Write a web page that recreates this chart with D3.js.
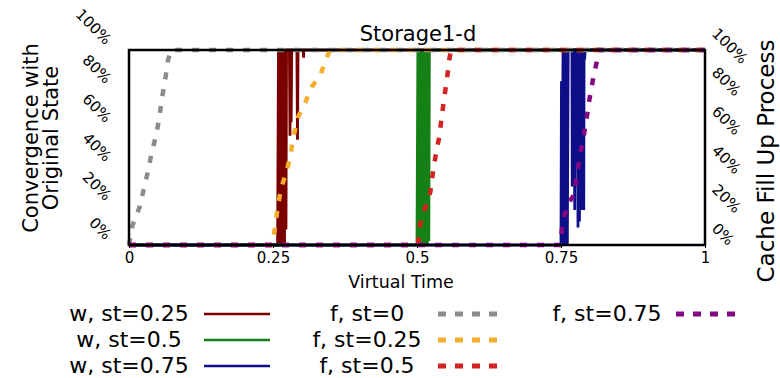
<!DOCTYPE html>
<html>
<head>
<meta charset="utf-8">
<script src="https://cdn.jsdelivr.net/npm/d3@7"></script>
<style>
  body { margin: 0; background: #fff; }
  text { font-family: "DejaVu Sans", sans-serif; fill: #000; }
</style>
</head>
<body>
<div class="chart"></div>
<script>

// tick values
var xTicks = [0, 0.25, 0.5, 0.75, 1];
var yTicks = [0, 20, 40, 60, 80, 100];

// w series (convergence), [virtual time, percent]
var wSt025 = [[0,0],[0.258,0],[0.2595,100],[0.261,0],[0.2625,100],[0.264,0],[0.2655,100],[0.267,0],
              [0.2685,100],[0.270,0],[0.2715,100],[0.2725,8],[0.2735,100],[0.2785,100],[0.2795,56],
              [0.2805,100],[0.2815,63],[0.2825,100],[0.2915,100],[0.2925,54],[0.2935,100],[0.3025,100],
              [0.303,96],[0.3035,100],[1,100]];
var wSt05 = [[0,0],[0.5,0],[0.5015,100],[0.503,0],[0.5045,100],[0.506,0],[0.5075,100],[0.509,0],
             [0.5105,100],[0.512,0],[0.5135,100],[0.515,0],[0.5165,100],[0.518,0],[0.5195,100],
             [0.5205,2],[0.5215,100],[1,100]];
var wSt075 = [[0,0],[0.75,0],[0.7508,84],[0.752,0],[0.7535,100],[0.755,0],[0.7565,100],[0.758,0],
              [0.7595,100],[0.761,0],[0.7625,100],[0.769,100],[0.7695,30],[0.7705,100],[0.7715,30],
              [0.7725,100],[0.7738,18],[0.775,100],[0.7775,100],[0.778,40],[0.779,100],[0.7795,9],
              [0.781,100],[0.782,12],[0.7835,100],[0.785,18],[0.786,100],[0.787,60],[0.788,100],
              [0.7895,18],[0.79,100],[0.791,95],[0.792,100],[1,100]];

// f series (cache fill up)
var fSt0 = [[0,0],[0.006,10],[0.019,20],[0.025,28],[0.034,39],[0.039,47],[0.047,56],[0.053,66],
            [0.057,75],[0.063,85],[0.068,95],[0.073,100],[1,100]];
var fSt025 = [[0,0],[0.247,0],[0.2505,3],[0.259,21],[0.265,30],[0.274,38],[0.281,47],[0.285,55],
              [0.294,66],[0.306,73],[0.317,81],[0.332,87],[0.343,96],[0.349,100],[1,100]];
var fSt05 = [[0,0],[0.5,0],[0.502,1],[0.505,10],[0.514,19],[0.523,27],[0.528,38],[0.533,47],
             [0.539,56],[0.543,66],[0.547,75],[0.552,85],[0.556,95],[0.559,100],[1,100]];
var fSt075 = [[0,0],[0.748,0],[0.753,11],[0.76,20],[0.773,26],[0.778,37],[0.783,46],[0.789,55],
              [0.795,66],[0.799,74],[0.805,84],[0.812,94],[0.816,100],[1,100]];

var wSeries = [
  {name: 'w, st=0.25', color: '#7a0000', data: wSt025},
  {name: 'w, st=0.5', color: '#158015', data: wSt05},
  {name: 'w, st=0.75', color: '#0e0e88', data: wSt075}
];
var fSeries = [
  {name: 'f, st=0', color: '#8c8c8c', data: fSt0},
  {name: 'f, st=0.25', color: '#f4ae2c', data: fSt025},
  {name: 'f, st=0.5', color: '#d42222', data: fSt05},
  {name: 'f, st=0.75', color: '#840884', data: fSt075}
];

var width = 780;
var height = 378;
var plotLeft = 129, plotRight = 705, plotTop = 50, plotBottom = 245;

var svg = d3.select('.chart').append('svg')
            .attr('width', width)
            .attr('height', height);

var x = d3.scaleLinear().domain([0, 1]).range([plotLeft, plotRight]);
var y = d3.scaleLinear().domain([0, 100]).range([plotBottom, plotTop]);

var line = d3.line()
             .x(function(d){ return x(d[0]); })
             .y(function(d){ return y(d[1]); });

var plot = svg.append('g');

wSeries.forEach(function(s) {
  plot.append('path')
      .attr('d', line(s.data))
      .attr('fill', 'none')
      .attr('stroke', s.color)
      .attr('stroke-width', 2.8)
      .attr('stroke-linejoin', 'miter');
});

fSeries.forEach(function(s) {
  plot.append('path')
      .attr('d', line(s.data))
      .attr('fill', 'none')
      .attr('stroke', s.color)
      .attr('stroke-width', 4.5)
      .style('stroke-dasharray', '7, 10');
});

// frame on top of the lines
svg.append('rect')
   .attr('x', plotLeft).attr('y', plotTop)
   .attr('width', plotRight - plotLeft).attr('height', plotBottom - plotTop)
   .attr('fill', 'none')
   .attr('stroke', '#000')
   .attr('stroke-width', 2.5);

var xAxis = d3.axisBottom(x).tickValues(xTicks).tickSize(2).tickPadding(4)
              .tickFormat(function(d){ return String(d); });
var gx = svg.append('g')
            .attr('transform', 'translate(0,' + (plotBottom + 1) + ')')
            .call(xAxis);
gx.select('.domain').remove();
gx.selectAll('text').style('font-size', '15px').attr('fill', '#000');

var yLeft = d3.axisLeft(y).tickValues(yTicks).tickSize(0)
              .tickFormat(function(d){ return d + '%'; });
var gyl = svg.append('g').call(yLeft);
gyl.select('.domain').remove();
gyl.selectAll('text')
   .attr('x', null).attr('dy', null)
   .attr('text-anchor', 'end')
   .attr('transform', 'translate(105,-5) rotate(45)')
   .style('font-size', '15px');

var yRight = d3.axisRight(y).tickValues(yTicks).tickSize(0)
               .tickFormat(function(d){ return d + '%'; });
var gyr = svg.append('g').call(yRight);
gyr.select('.domain').remove();
gyr.selectAll('text')
   .attr('x', null).attr('dy', null)
   .attr('text-anchor', 'start')
   .attr('transform', 'translate(711,-16) rotate(45)')
   .style('font-size', '15px');

// titles
svg.append('text')
   .attr('x', 418).attr('y', 41)
   .attr('text-anchor', 'middle')
   .style('font-size', '21px')
   .text('Storage1-d');

svg.append('text')
   .attr('x', 401).attr('y', 288)
   .attr('text-anchor', 'middle')
   .style('font-size', '17.5px')
   .text('Virtual Time');

var yl = svg.append('text')
            .attr('transform', 'translate(38,138) rotate(-90)')
            .attr('text-anchor', 'middle')
            .style('font-size', '21px');
yl.append('tspan').attr('x', 0).attr('dy', 0).text('Convergence with');
yl.append('tspan').attr('x', 0).attr('dy', '0.95em').text('Original State');

svg.append('text')
   .attr('transform', 'translate(774,161) rotate(-90)')
   .attr('text-anchor', 'middle')
   .style('font-size', '23px')
   .text('Cache Fill Up Process');

// legend
var legendItems = [
  {s: wSeries[0], tx: 129, lx: 204, row: 0, dash: false},
  {s: wSeries[1], tx: 129, lx: 204, row: 1, dash: false},
  {s: wSeries[2], tx: 129, lx: 204, row: 2, dash: false},
  {s: fSeries[0], tx: 367, lx: 438, row: 0, dash: true},
  {s: fSeries[1], tx: 367, lx: 438, row: 1, dash: true},
  {s: fSeries[2], tx: 367, lx: 438, row: 2, dash: true},
  {s: fSeries[3], tx: 607, lx: 676, row: 0, dash: true}
];
var rowY = [313, 339, 365];

var legend = svg.append('g').attr('class', 'legend');
legendItems.forEach(function(it) {
  var ly = rowY[it.row];
  legend.append('text')
        .attr('x', it.tx).attr('y', ly)
        .attr('dy', '0.35em')
        .attr('text-anchor', 'middle')
        .style('font-size', '22px')
        .text(it.s.name);
  var l = legend.append('line')
                .attr('x1', it.lx).attr('x2', it.lx + 66)
                .attr('y1', ly + 1).attr('y2', ly + 1)
                .attr('stroke', it.s.color);
  if (it.dash) {
    l.attr('stroke-width', 5).style('stroke-dasharray', '8, 9');
  } else {
    l.attr('stroke-width', 2.6);
  }
});

</script>
</body>
</html>
